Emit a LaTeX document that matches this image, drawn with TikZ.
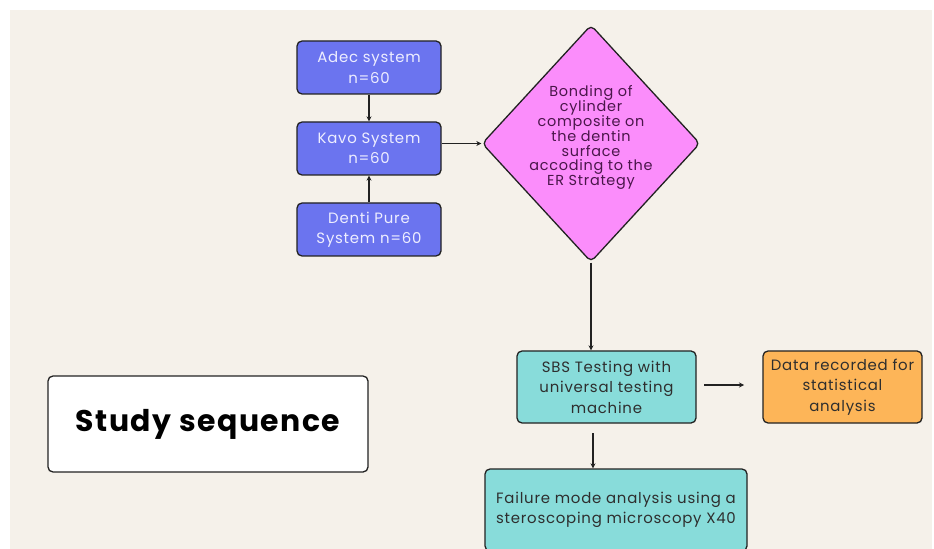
\documentclass[tikz,border=0pt]{standalone}
\usepackage{fontspec}
\setmainfont{Poppins}[LetterSpace=5]
\usetikzlibrary{shapes.geometric,arrows.meta}
\definecolor{bgbeige}{HTML}{F5F1EA}
\definecolor{boxblue}{HTML}{6B74EF}
\definecolor{boxpink}{HTML}{FB8DFB}
\definecolor{boxteal}{HTML}{88DCDA}
\definecolor{boxorange}{HTML}{FDB558}
\definecolor{bluetext}{HTML}{EEEEFF}
\definecolor{pinktext}{HTML}{4A164A}
\definecolor{darktext}{HTML}{2E2E2E}
\definecolor{linecol}{HTML}{222222}
\tikzset{
  base/.style={draw=linecol, line width=1.3bp, rounded corners=5bp, align=center, inner sep=0pt,
    font=\fontsize{15}{20.5}\selectfont},
  bluebox/.style={base, fill=boxblue, text=bluetext, minimum width=144bp, minimum height=53bp},
  tealbox/.style={base, fill=boxteal, text=darktext},
  conn/.style={draw=linecol, line width=1.3bp, -{Stealth[length=5bp,width=5bp]}}
}
\begin{document}
\begin{tikzpicture}[x=1bp,y=-1bp]
\useasboundingbox (0,0) rectangle (934,549);
\fill[white] (0,0) rectangle (934,549);
\fill[bgbeige] (10,10) rectangle (932,549);

\node[bluebox] (adec) at (369,67.5) {Adec system\\n=60};
\node[bluebox] (kavo) at (369,148.5) {Kavo System\\n=60};
\node[bluebox] (denti) at (369,229.5) {Denti Pure\\System n=60};

\node[diamond, draw=linecol, line width=1.3bp, fill=boxpink, rounded corners=5bp,
      minimum width=218bp, minimum height=237bp, inner sep=0pt] (bond) at (591,143.5) {};
\node[align=center, text=pinktext, font=\fontsize{14.5}{15}\selectfont] (bondtext) at (591,137.5)
  {Bonding of\\cylinder\\composite on\\the dentin\\surface\\accoding to the\\ER Strategy};

\node[tealbox, minimum width=179bp, minimum height=72bp] (sbs) at (606.5,387)
  {SBS Testing with\\universal testing\\machine};
\node[base, fill=boxorange, text=darktext, minimum width=159bp, minimum height=72bp] (data) at (842.5,387)
  {Data recorded for\\statistical\\analysis};
\node[tealbox, minimum width=262bp, minimum height=82bp] (fail) at (616,510)
  {Failure mode analysis using a\\steroscoping microscopy X40};

\node[draw=linecol, line width=1.3bp, rounded corners=5bp, fill=white,
      minimum width=320bp, minimum height=96bp, inner sep=0pt,
      font=\fontsize{30}{34}\selectfont\bfseries] (study) at (208,424) {Study sequence};

\coordinate (sbsout) at (704,385);
\coordinate (datain) at (744,385);
\coordinate (sbsdown) at (593,433);

\draw[conn] (adec.south) -- (kavo.north);
\draw[conn] (denti.north) -- (kavo.south);
\draw[conn] (kavo.east |- bond.west) -- (bond.west);
\draw[conn] (bond.south) -- (bond.south |- sbs.north);
\draw[conn] (sbsout) -- (datain);
\draw[conn] (sbsdown) -- (sbsdown |- fail.north);
\end{tikzpicture}
\end{document}
